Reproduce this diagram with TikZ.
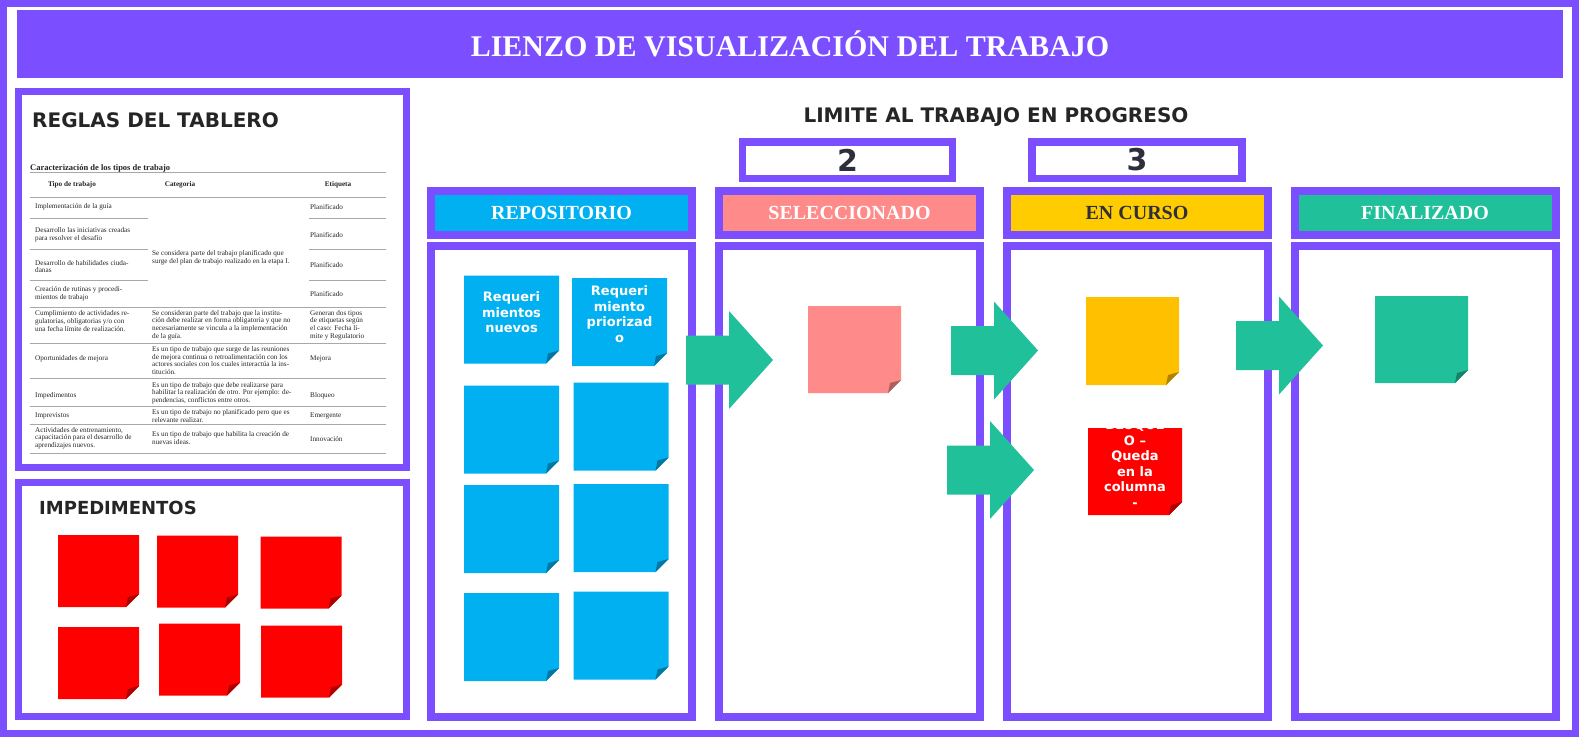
\documentclass[tikz,border=0pt]{standalone}
\usepackage{fontspec}
\setmainfont{Liberation Serif}
\newfontfamily\djsans{DejaVu Sans}

\definecolor{kpurple}{HTML}{7B4FFF}
\definecolor{kblue}{HTML}{00B0F0}
\definecolor{kpink}{HTML}{FF8A8A}
\definecolor{kgold}{HTML}{FFCC00}
\definecolor{kamber}{HTML}{FFC000}
\definecolor{kteal}{HTML}{20C09A}
\definecolor{kred}{HTML}{FF0000}
\definecolor{kdark}{HTML}{252525}
\definecolor{knum}{HTML}{2E2F3A}
\definecolor{krule}{HTML}{A8A8A8}

% block arrow between columns: tail x, centre y
\newcommand\flowarrow[2]{%
  \fill[kteal] (#1,#2) ++(0,-24.5) -- ++(43,0) -- ++(0,-24.5) -- ++(44,49)
    -- ++(-44,49) -- ++(0,-24.5) -- ++(-43,0) -- cycle;}

\begin{document}
\begin{tikzpicture}[x=1pt, y=-1pt,
  frame/.style={draw=kpurple, line width=7pt},
  colhead/.style={draw=kpurple, line width=8pt, minimum width=261pt,
    minimum height=44pt, inner sep=0pt, text=white,
    font=\fontsize{20}{24}\selectfont\bfseries},
  colbody/.style={draw=kpurple, line width=8pt, fill=white,
    minimum width=261pt, minimum height=471pt},
  wipbox/.style={draw=kpurple, line width=7.5pt, fill=white,
    minimum width=210pt, minimum height=36.5pt, inner sep=0pt, text=knum,
    font=\djsans\bfseries\fontsize{30}{30}\selectfont},
  heading/.style={inner sep=0pt, text=kdark,
    font=\djsans\bfseries\fontsize{20}{24}\selectfont},
  note/.style={minimum width=95pt, minimum height=88pt, inner sep=0pt,
    path picture={
      \fill[#1] (path picture bounding box.north west) -- (path picture bounding box.north east)
        -- ([yshift=13pt]path picture bounding box.south east)
        -- ([xshift=-13pt]path picture bounding box.south east)
        -- (path picture bounding box.south west) -- cycle;
      \fill[#1!68!black] ([yshift=13pt]path picture bounding box.south east)
        -- ([xshift=-13pt]path picture bounding box.south east)
        -- ([xshift=-11pt,yshift=10pt]path picture bounding box.south east) -- cycle;}},
  impnote/.style={note=kred, minimum width=81pt, minimum height=72pt},
  notetext/.style={inner sep=0pt, align=center, text=white,
    font=\djsans\bfseries\fontsize{13}{15.5}\selectfont},
  cell/.style={anchor=west, inner sep=0pt, align=left, text=kdark,
    font=\fontsize{7.2}{7.7}\selectfont},
  headcell/.style={inner sep=0pt, text=kdark,
    font=\fontsize{7.2}{7.7}\selectfont\bfseries},
  rule/.style={draw=krule, line width=.8pt}
]
\useasboundingbox (0,0) rectangle (1579,737);
\fill[white] (0,0) rectangle (1579,737);
\draw[frame] (3.5,3.5) rectangle (1575.5,733.5);

\node[fill=kpurple, minimum width=1546pt, minimum height=68pt, inner sep=0pt,
  text=white, font=\bfseries\fontsize{30}{30}\selectfont] (title) at (790,44)
  {LIENZO DE VISUALIZACIÓN DEL TRABAJO};

% left panels
\draw[frame] (18.5,91.5) rectangle (406.5,467.5);
\draw[frame] (18.5,482.5) rectangle (406.5,716.5);
\node[heading, anchor=base west] (reglas) at (32,127) {REGLAS DEL TABLERO};
\node[heading, anchor=base west, font=\djsans\bfseries\fontsize{18}{22}\selectfont]
  (imped) at (39,514) {IMPEDIMENTOS};

% table of work types
\node[anchor=base west, inner sep=0pt, text=kdark, font=\fontsize{8.5}{9}\selectfont\bfseries]
  (tabtitle) at (30,170) {Caracterización de los tipos de trabajo};
\foreach \yy in {172,197,307,343,378,406,424,453}
  \draw[rule] (30,\yy) -- (386,\yy);
\foreach \yy in {218,249,280} {
  \draw[rule] (30,\yy) -- (148,\yy);
  \draw[rule] (309,\yy) -- (386,\yy);
}
\node[headcell] (hTipo) at (72,185) {Tipo de trabajo};
\node[headcell] (hCat) at (180,185) {Categoria};
\node[headcell] (hEti) at (338,185) {Etiqueta};

\node[cell] (tipo1) at (35,207) {Implementación de la guía};
\node[cell] (tipo2) at (35,235) {Desarrollo las iniciativas creadas\\para resolver el desafío};
\node[cell] (tipo3) at (35,266.5) {Desarrollo de habilidades ciuda-\\danas};
\node[cell] (tipo4) at (35,293.5) {Creación de rutinas y procedi-\\mientos de trabajo};
\node[cell] (tipo5) at (35,321) {Cumplimiento de actividades re-\\gulatorias, obligatorias y/o con\\una fecha límite de realización.};
\node[cell] (tipo6) at (35,359) {Oportunidades de mejora};
\node[cell] (tipo7) at (35,396) {Impedimentos};
\node[cell] (tipo8) at (35,416) {Imprevistos};
\node[cell] (tipo9) at (35,438) {Actividades de entrenamiento,\\capacitación para el desarrollo de\\aprendizajes nuevos.};

\node[cell] (cat1) at (152,257.5) {Se considera parte del trabajo planificado que\\surge del plan de trabajo realizado en la etapa I.};
\node[cell] (cat5) at (152,325) {Se consideran parte del trabajo que la institu-\\ción debe realizar en forma obligatoria y que no\\necesariamente se vincula a la implementación\\de la guía.};
\node[cell] (cat6) at (152,360.5) {Es un tipo de trabajo que surge de las reuniones\\de mejora continua o retroalimentación con los\\actores sociales con los cuales interactúa la ins-\\titución.};
\node[cell] (cat7) at (152,393) {Es un tipo de trabajo que debe realizarse para\\habilitar la realización de otro. Por ejemplo: de-\\pendencias, conflictos entre otros.};
\node[cell] (cat8) at (152,416) {Es un tipo de trabajo no planificado pero que es\\relevante realizar.};
\node[cell] (cat9) at (152,438) {Es un tipo de trabajo que habilita la creación de\\nuevas ideas.};

\node[cell] (eti1) at (310,207) {Planificado};
\node[cell] (eti2) at (310,235) {Planificado};
\node[cell] (eti3) at (310,265) {Planificado};
\node[cell] (eti4) at (310,294) {Planificado};
\node[cell] (eti5) at (310,325) {Generan dos tipos\\de etiquetas según\\el caso: Fecha lí-\\mite y Regulatorio};
\node[cell] (eti6) at (310,359) {Mejora};
\node[cell] (eti7) at (310,396) {Bloqueo};
\node[cell] (eti8) at (310,416) {Emergente};
\node[cell] (eti9) at (310,439) {Innovación};

% impediments
\node[impnote] (imp1) at (98.5,571) {};
\node[impnote] (imp2) at (197.5,571.5) {};
\node[impnote] (imp3) at (301,572.5) {};
\node[impnote] (imp4) at (98.5,663) {};
\node[impnote] (imp5) at (199.5,659.5) {};
\node[impnote] (imp6) at (301.5,661.5) {};

% WIP limits
\node[heading] (limite) at (996,117) {LIMITE AL TRABAJO EN PROGRESO};
\node[wipbox] (wipSel) at (847.5,160) {2};
\node[wipbox] (wipCurso) at (1137,160) {3};

% columns
\node[colhead, fill=kblue] (hRepo) at (561.5,213) {REPOSITORIO};
\node[colhead, fill=kpink] (hSel) at (849.5,213) {SELECCIONADO};
\node[colhead, fill=kgold, text=knum] (hCurso) at (1137,213) {EN CURSO};
\node[colhead, fill=kteal] (hFin) at (1425,213) {FINALIZADO};
\node[colbody] (bRepo) at (561.5,481.5) {};
\node[colbody] (bSel) at (849.5,481.5) {};
\node[colbody] (bCurso) at (1137,481.5) {};
\node[colbody] (bFin) at (1425,481.5) {};

% repository notes
\node[note=kblue] (req1) at (511.5,319.5) {};
\node[note=kblue] (req2) at (619.5,322) {};
\node[note=kblue] (req3) at (511.5,429.5) {};
\node[note=kblue] (req4) at (621,426.5) {};
\node[note=kblue] (req5) at (511.5,529) {};
\node[note=kblue] (req6) at (621,528) {};
\node[note=kblue] (req7) at (511.5,637) {};
\node[note=kblue] (req8) at (621,635.5) {};
\node[notetext] (txt1) at (511.5,312.5) {Requeri\\mientos\\nuevos};
\node[notetext] (txt2) at (619.5,314) {Requeri\\miento\\priorizad\\o};

% notes in the other columns
\node[note=kpink, minimum width=93pt, minimum height=87pt] (sel1) at (854.5,349.5) {};
\node[note=kamber, minimum width=93pt] (curso1) at (1132.5,341) {};
\node[note=kred, minimum width=94pt, minimum height=87pt] (bloq1) at (1135,471.5) {};
\node[note=kteal, minimum width=93pt, minimum height=87pt] (fin1) at (1421.5,339.5) {};
\begin{scope}
  \clip (bloq1.north west) rectangle (bloq1.south east);
  \node[notetext] (txt3) at (1135,463.5) {BLOQUE\\O –\\Queda\\en la\\columna\\-};
\end{scope}

% flow arrows
\flowarrow{686}{360}
\flowarrow{951}{350.5}
\flowarrow{947}{470}
\flowarrow{1236}{345.5}
\end{tikzpicture}
\end{document}
